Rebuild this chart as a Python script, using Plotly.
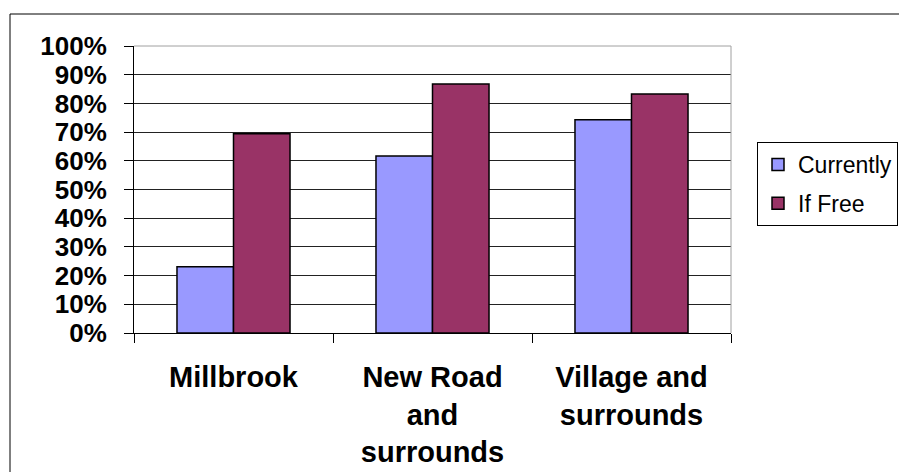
import plotly.graph_objects as go

categories = ["Millbrook", "New Road<br>and<br>surrounds", "Village and<br>surrounds"]
currently = [0.231, 0.617, 0.743]
if_free = [0.694, 0.868, 0.833]
y_ticks = [0, 0.1, 0.2, 0.3, 0.4, 0.5, 0.6, 0.7, 0.8, 0.9, 1.0]

# page has an 8px body margin: work in figure coordinates offset by 8px
OFF = 8
W, H = 907 - OFF, 472 - OFF
L, R, T, B = 134 - OFF, 731 - OFF, 46 - OFF, 333 - OFF

def px(x):
    return (x - OFF - L) / (R - L)

def py(y):
    return (B - (y - OFF)) / (B - T)

fig = go.Figure()
fig.add_trace(go.Bar(
    x=categories, y=currently, name="Currently", legendgroup="a",
    marker=dict(color="#9999FF", line=dict(color="black", width=1.5)),
))
fig.add_trace(go.Bar(
    x=categories, y=if_free, name="If Free", legendgroup="b",
    marker=dict(color="#993366", line=dict(color="black", width=1.5)),
))

fig.update_layout(
    width=W, height=H,
    margin=dict(l=L, r=W - R, t=T, b=H - B, pad=0, autoexpand=False),
    paper_bgcolor="white", plot_bgcolor="white",
    barmode="group", bargap=0.432, bargroupgap=0,
    font=dict(family="Liberation Sans, Arial, sans-serif", color="black"),
    legend=dict(
        xref="container", yref="container",
        x=(757 - OFF) / W, y=1 - (142 - OFF) / H, xanchor="left", yanchor="top",
        bordercolor="black", borderwidth=1, bgcolor="white",
        font=dict(size=23, family="Liberation Sans, Arial, sans-serif"),
        traceorder="grouped", tracegroupgap=6,
    ),
    xaxis=dict(
        type="category", range=[-0.5, 2.5], tickson="boundaries",
        ticks="outside", ticklen=9, tickcolor="black", tickwidth=1,
        showline=True, linecolor="black", linewidth=1,
        showgrid=False, automargin=False,
        tickfont=dict(size=29, weight="bold"),
        ticklabelstandoff=18,
    ),
    yaxis=dict(
        range=[0, 1], tickvals=y_ticks, tickformat=".0%",
        ticks="outside", ticklen=9, tickcolor="black", tickwidth=1,
        showline=True, linecolor="black", linewidth=1,
        showgrid=True, gridcolor="#222222", gridwidth=1,
        tickfont=dict(size=26, weight="bold"),
        ticklabelstandoff=12, automargin=False,
        zeroline=False,
    ),
    shapes=[
        dict(type="rect", xref="paper", yref="paper",
             x0=px(10), x1=px(930), y0=py(500), y1=py(14),
             line=dict(color="black", width=1), fillcolor="rgba(0,0,0,0)", layer="below"),
        dict(type="line", xref="paper", yref="paper", x0=0, x1=1, y0=1, y1=1,
             line=dict(color="#a0a0a0", width=1)),
        dict(type="line", xref="paper", yref="paper", x0=1, x1=1, y0=0, y1=1,
             line=dict(color="#a0a0a0", width=1)),
    ],
)

fig.write_html("out.html")
